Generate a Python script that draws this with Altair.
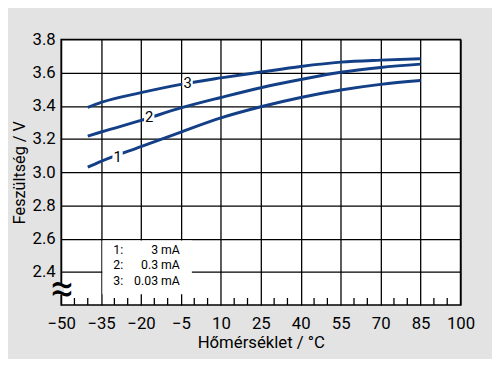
import altair as alt
import pandas as pd

# ---- data ----
temps = [-40, -35, -20, -5, 10, 25, 40, 55, 70, 85]
curve1 = [3.030, 3.065, 3.154, 3.242, 3.327, 3.394, 3.450, 3.495, 3.529, 3.552]
curve2 = [3.217, 3.242, 3.312, 3.387, 3.450, 3.509, 3.558, 3.602, 3.631, 3.651]
curve3 = [3.390, 3.420, 3.479, 3.529, 3.568, 3.603, 3.637, 3.663, 3.675, 3.683]
series_names = ["1", "2", "3"]

label_x = [-28.8, -16.9, -2.5]
label_y = [3.094, 3.331, 3.538]

legend_keys = ["1:", "2:", "3:"]
legend_vals = ["3 mA", "0.3 mA", "0.03 mA"]
legend_rows = [2.532, 2.439, 2.345]

x_ticks = list(range(-50, 101, 15))
y_ticks = [2.4, 2.6, 2.8, 3.0, 3.2, 3.4, 3.6, 3.8]
minor_ticks = [v for v in range(-45, 100, 5) if (v + 50) % 15 != 0]

LINE = "#133f86"
BG = "#e3e3e3"
FONT = "Roboto"

rows = []
for name, vals in zip(series_names, [curve1, curve2, curve3]):
    for t, v in zip(temps, vals):
        rows.append({"x": t, "y": v, "s": name})
df = pd.DataFrame(rows)

xs = alt.Scale(domain=[-50, 100], nice=False, zero=False)
ys = alt.Scale(domain=[2.2, 3.8], nice=False, zero=False)

ax_x = alt.Axis(
    values=x_ticks, grid=True, gridColor="black", gridWidth=1.3, gridOpacity=1,
    ticks=False, domain=False, labelFont=FONT, labelFontSize=17, labelColor="black",
    labelPadding=11, labelExpr="replace(datum.label, '-', '−')", labelFlush=False,
    title="Hőmérséklet / °C", titleFont=FONT, titleFontSize=17, titleFontWeight="normal",
    titleColor="black", titlePadding=3, format="d")
ax_y = alt.Axis(
    values=y_ticks, grid=True, gridColor="black", gridWidth=1.3, gridOpacity=1,
    ticks=False, domain=False, labelFont=FONT, labelFontSize=17, labelColor="black",
    labelPadding=6, format=".1f", labelFlush=False,
    title="Feszültség / V", titleFont=FONT, titleFontSize=16.5, titleFontWeight="normal",
    titleColor="black", titlePadding=5)


def X(field="x"):
    return alt.X(f"{field}:Q", scale=xs, axis=ax_x, title="Hőmérséklet / °C")


def Y(field="y"):
    return alt.Y(f"{field}:Q", scale=ys, axis=ax_y, title="Feszültség / V")


lines = alt.Chart(df).mark_line(color=LINE, strokeWidth=3, interpolate="monotone").encode(
    x=X(), y=Y(), detail="s:N")

# legend box (white, hides the grid)
box_df = pd.DataFrame({"x": [-34.5], "x2": [-0.9], "y": [2.264], "y2": [2.589]})
box = alt.Chart(box_df).mark_rect(fill="white").encode(x=X(), x2="x2:Q", y=Y(), y2="y2:Q")

# minor ticks along the bottom
mt_df = pd.DataFrame({"x": minor_ticks, "y": [2.2] * len(minor_ticks), "y2": [2.242] * len(minor_ticks)})
minor = alt.Chart(mt_df).mark_rule(color="black", strokeWidth=1.3).encode(x=X(), y=Y(), y2="y2:Q")

lab_df = pd.DataFrame({"x": label_x, "y": label_y, "t": series_names})
lab_bg = alt.Chart(lab_df).mark_point(shape="square", filled=True, color="white", opacity=1, size=110).encode(
    x=X(), y=Y())
lab_txt = alt.Chart(lab_df).mark_text(font=FONT, fontSize=15, color="black", baseline="middle").encode(
    x=X(), y=Y(), text="t:N")

legk_df = pd.DataFrame({"t": legend_keys, "y": legend_rows, "x": [-30.4] * 3})
legv_df = pd.DataFrame({"t": legend_vals, "y": legend_rows, "x": [-5.4] * 3})
leg_k = alt.Chart(legk_df).mark_text(font=FONT, fontSize=12.5, color="black", align="left", baseline="middle").encode(
    x=X(), y=Y(), text="t:N")
leg_v = alt.Chart(legv_df).mark_text(font=FONT, fontSize=12.5, color="black", align="right", baseline="middle").encode(
    x=X(), y=Y(), text="t:N")

# axis break symbol
brkr_df = pd.DataFrame({"x": [-51.1], "x2": [-48.9], "y": [2.262], "y2": [2.325]})
brkt_df = pd.DataFrame({"x": [-49.6], "y": [2.29], "t": ["≈"]})
brk_bg = alt.Chart(brkr_df).mark_rect(fill=BG).encode(x=X(), x2="x2:Q", y=Y(), y2="y2:Q")
brk_txt = alt.Chart(brkt_df).mark_text(font=FONT, fontSize=41, color="black", baseline="middle").encode(
    x=X(), y=Y(), text="t:N")

chart = alt.layer(lines, box, minor, lab_bg, lab_txt, leg_k, leg_v, brk_bg, brk_txt).properties(
    width=406, height=270,
    padding={"left": 54, "top": 29, "right": 32, "bottom": 52},
    autosize=alt.AutoSizeParams(type="none"),
    background=BG,
).configure_view(stroke="black", strokeWidth=1.5, fill="white")

chart.save("out.html", embed_options={"renderer": "svg", "actions": False})
